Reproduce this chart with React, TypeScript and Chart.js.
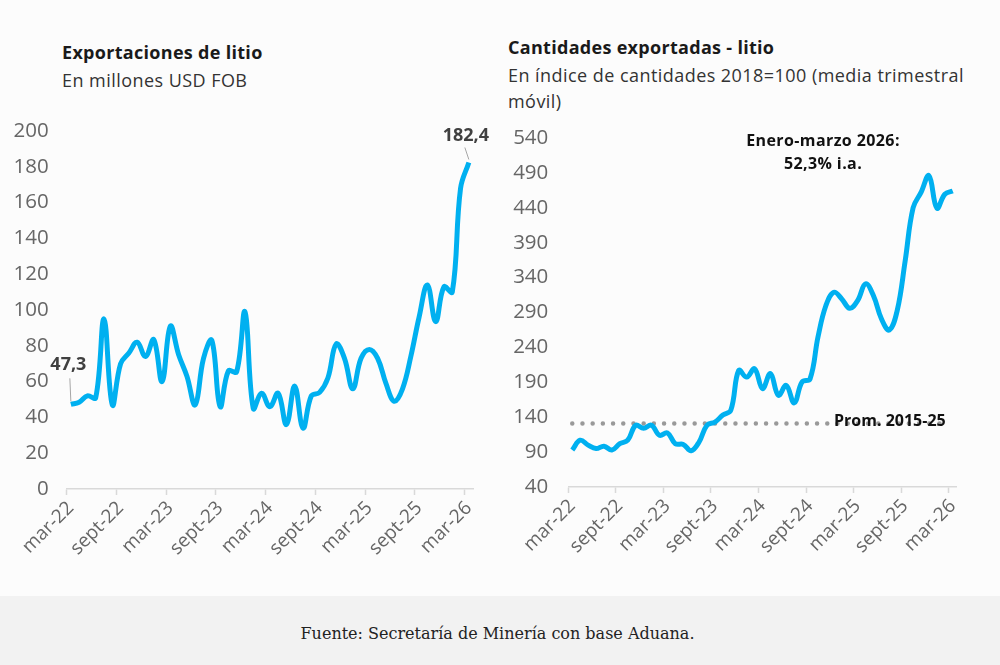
import { useEffect, useRef } from "react"
import { Chart, registerables } from "chart.js"

Chart.register(...registerables)

// monthly categories, mar-22 .. mar-26
const months = [
  "mar-22", "abr-22", "may-22", "jun-22", "jul-22", "ago-22", "sept-22", "oct-22", "nov-22", "dic-22", "ene-23", "feb-23",
  "mar-23", "abr-23", "may-23", "jun-23", "jul-23", "ago-23", "sept-23", "oct-23", "nov-23", "dic-23", "ene-24", "feb-24",
  "mar-24", "abr-24", "may-24", "jun-24", "jul-24", "ago-24", "sept-24", "oct-24", "nov-24", "dic-24", "ene-25", "feb-25",
  "mar-25", "abr-25", "may-25", "jun-25", "jul-25", "ago-25", "sept-25", "oct-25", "nov-25", "dic-25", "ene-26", "feb-26",
  "mar-26",
]

// Exportaciones de litio, millones USD FOB
const exportValues = [
  47.3, 48.5, 52, 51, 95, 47, 70, 76, 82, 74, 83.5, 60,
  91, 75, 63, 47, 73, 83, 46, 66, 65.5, 99, 45, 53.5,
  46, 53.5, 36, 57.5, 34, 52, 54, 62, 81, 73, 56, 73,
  78, 73, 59, 49, 56, 74, 96, 114, 93.5, 113, 110, 168,
  182.4,
]

// Cantidades exportadas, índice 2018=100 (media trimestral móvil)
const quantityIndex = [
  93, 107, 100, 95, 98.5, 93, 102, 107, 128.5, 124, 128.5, 114,
  117.5, 102, 101, 92, 104.5, 128.5, 133, 143, 150, 207, 197.5, 209.5,
  181, 202.5, 171.5, 185.5, 160.5, 190.5, 195, 255, 300, 319, 309.5, 296,
  307, 331, 314, 281, 265, 293, 364, 440, 462, 486, 439.5, 459.5,
  464,
]

const promedio2015_25 = 131

const exportTicks = { min: 0, max: 200, step: 20 }
const quantityTicks = { min: 40, max: 540, step: 50 }

const FONT = "'Open Sans', 'DejaVu Sans', sans-serif"
const BLUE = "#00b0f0"
const AXIS_GREY = "#d9d9d9"
const TICK_GREY = "#666666"

function xScale(height: number) {
  return {
    type: "category" as const,
    offset: true,
    grid: {
      display: true,
      offset: true,
      drawOnChartArea: false,
      drawTicks: true,
      tickLength: 6,
      tickWidth: 1.5,
      tickColor: (ctx: any) => (ctx.index % 6 === 0 ? AXIS_GREY : "rgba(0,0,0,0)"),
    },
    border: { display: true, color: AXIS_GREY, width: 1.5 },
    ticks: {
      autoSkip: false,
      maxRotation: 45,
      minRotation: 45,
      padding: 2,
      color: TICK_GREY,
      font: { family: FONT, size: 19 },
      callback: (_v: any, i: number) => (i % 6 === 0 ? months[i] : ""),
    },
    afterFit: (scale: any) => {
      scale.height = height
    },
  }
}

function yScale(t: { min: number; max: number; step: number }, width: number, pad: number) {
  return {
    min: t.min,
    max: t.max,
    grid: { display: false, drawTicks: false },
    border: { display: false },
    ticks: {
      stepSize: t.step,
      padding: pad,
      color: TICK_GREY,
      font: { family: FONT, size: 20.5 },
    },
    afterFit: (scale: any) => {
      scale.width = width
    },
  }
}

const pointLabels = {
  id: "pointLabels",
  afterDatasetsDraw(chart: any) {
    const ctx = chart.ctx
    const pts = chart.getDatasetMeta(0).data
    const first = pts[0]
    const last = pts[pts.length - 1]
    ctx.save()
    ctx.strokeStyle = "#a6a6a6"
    ctx.lineWidth = 1
    ctx.beginPath()
    ctx.moveTo(first.x - 1, first.y - 26)
    ctx.lineTo(first.x, first.y - 3)
    ctx.moveTo(last.x - 4, last.y - 15)
    ctx.lineTo(last.x, last.y - 3)
    ctx.stroke()
    ctx.fillStyle = "#404040"
    ctx.font = `bold 18px ${FONT}`
    ctx.textAlign = "center"
    ctx.textBaseline = "middle"
    ctx.fillText("47,3", first.x - 2.5, first.y - 39)
    ctx.fillText("182,4", last.x - 3, last.y - 27)
    ctx.restore()
  },
}

const promLine = {
  id: "promLine",
  beforeDatasetsDraw(chart: any) {
    const ctx = chart.ctx
    const y = chart.scales.y.getPixelForValue(promedio2015_25)
    const x0 = chart.getDatasetMeta(0).data[0].x
    ctx.save()
    ctx.strokeStyle = "#999999"
    ctx.lineWidth = 4.5
    ctx.lineCap = "round"
    ctx.setLineDash([0, 10.2])
    ctx.beginPath()
    ctx.moveTo(x0, y)
    ctx.lineTo(chart.chartArea.right - 10, y)
    ctx.stroke()
    ctx.restore()
  },
  afterDatasetsDraw(chart: any) {
    const ctx = chart.ctx
    const y = chart.scales.y.getPixelForValue(promedio2015_25)
    ctx.save()
    ctx.fillStyle = "#111111"
    ctx.font = `bold 16px ${FONT}`
    ctx.textAlign = "right"
    ctx.textBaseline = "middle"
    ctx.fillText("Prom. 2015-25", chart.chartArea.right - 11, y - 2)
    ctx.restore()
  },
}

function LineChart({
  values,
  ticks,
  yWidth,
  yPad,
  xHeight,
  padding,
  plugins,
}: {
  values: number[]
  ticks: { min: number; max: number; step: number }
  yWidth: number
  yPad: number
  xHeight: number
  padding: { top: number; right: number; bottom: number; left: number }
  plugins: any[]
}) {
  const canvasRef = useRef<HTMLCanvasElement>(null)

  useEffect(() => {
    if (!canvasRef.current) return
    const chart = new Chart(canvasRef.current, {
      type: "line",
      data: {
        labels: months,
        datasets: [
          {
            data: values,
            borderColor: BLUE,
            borderWidth: 5,
            pointRadius: 0,
            tension: 0.4,
            fill: false,
          },
        ],
      },
      options: {
        animation: false,
        responsive: true,
        maintainAspectRatio: false,
        layout: { padding },
        plugins: { legend: { display: false }, tooltip: { enabled: false } },
        scales: {
          x: xScale(xHeight) as any,
          y: yScale(ticks, yWidth, yPad) as any,
        },
      },
      plugins,
    })
    return () => chart.destroy()
  }, [])

  return <canvas ref={canvasRef}></canvas>
}

const titleStyle = {
  position: "absolute" as const,
  fontSize: 18,
  fontWeight: 700,
  color: "#1a1a1a",
  lineHeight: "24px",
  letterSpacing: "0.3px",
}

const subStyle = {
  position: "absolute" as const,
  fontSize: 18,
  color: "#333",
  lineHeight: "26px",
  letterSpacing: "0.45px",
}

export default function App() {
  return (
    <div
      style={{
        position: "absolute",
        left: 0,
        top: 0,
        width: 1000,
        height: 665,
        background: "#fcfcfc",
        fontFamily: FONT,
        overflow: "hidden",
      }}
    >
      <div style={{ ...titleStyle, left: 62, top: 40 }}>Exportaciones de litio</div>
      <div style={{ ...subStyle, left: 62, top: 67 }}>En millones USD FOB</div>
      <div style={{ ...titleStyle, left: 508, top: 35 }}>Cantidades exportadas - litio</div>
      <div style={{ ...subStyle, left: 508, top: 62, whiteSpace: "nowrap" }}>
        En índice de cantidades 2018=100 (media trimestral
        <br />
        móvil)
      </div>

      <div style={{ position: "absolute", left: 0, top: 0, width: 500, height: 596 }}>
        <LineChart
          values={exportValues}
          ticks={exportTicks}
          yWidth={66.7}
          yPad={18}
          xHeight={107}
          padding={{ top: 131, right: 27, bottom: 0, left: 0 }}
          plugins={[pointLabels]}
        />
      </div>
      <div style={{ position: "absolute", left: 500, top: 0, width: 500, height: 596 }}>
        <LineChart
          values={quantityIndex}
          ticks={quantityTicks}
          yWidth={68.3}
          yPad={20}
          xHeight={109}
          padding={{ top: 138, right: 43.3, bottom: 0, left: 0 }}
          plugins={[promLine]}
        />
      </div>

      <div
        style={{
          position: "absolute",
          left: 700,
          top: 129,
          width: 246,
          textAlign: "center",
          fontSize: 16,
          fontWeight: 700,
          color: "#111",
          lineHeight: "23px",
          letterSpacing: "0.4px",
        }}
      >
        Enero-marzo 2026:
        <br />
        52,3% i.a.
      </div>

      <div
        style={{
          position: "absolute",
          left: 0,
          top: 596,
          width: 1000,
          height: 69,
          background: "#f2f2f2",
          display: "flex",
          alignItems: "center",
          justifyContent: "center",
          fontFamily: "'DejaVu Serif', 'Liberation Serif', serif",
          fontSize: 16,
          color: "#222",
        }}
      >
        <span style={{ marginLeft: -5, marginTop: 5 }}>Fuente: Secretaría de Minería con base Aduana.</span>
      </div>
    </div>
  )
}
